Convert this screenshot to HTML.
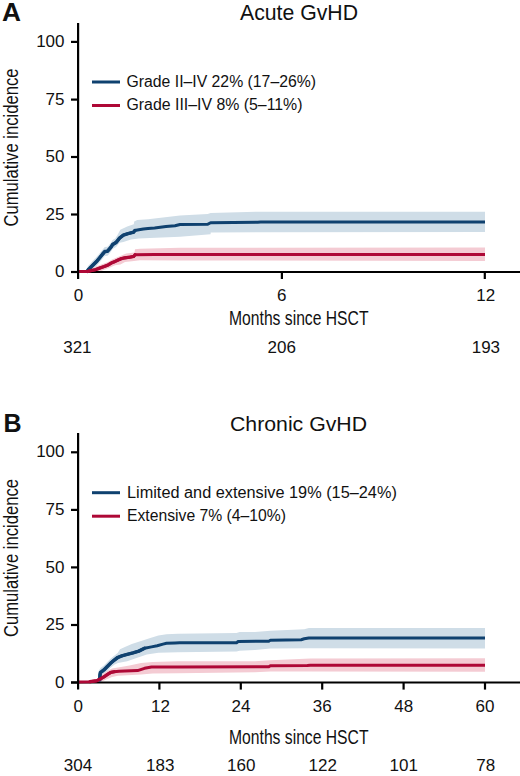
<!DOCTYPE html>
<html><head><meta charset="utf-8">
<style>
html,body{margin:0;padding:0;background:#fff;}
body{width:520px;height:776px;overflow:hidden;}
svg{display:block;}
text{font-family:"Liberation Sans",sans-serif;fill:#111;}
</style></head>
<body>
<svg width="520" height="776" viewBox="0 0 520 776">
<!-- ================= PANEL A ================= -->
<g id="pa">
<text x="2" y="21.3" font-size="25" font-weight="bold" textLength="19" lengthAdjust="spacingAndGlyphs">A</text>
<text x="240" y="20" font-size="21.6" textLength="118" lengthAdjust="spacingAndGlyphs">Acute GvHD</text>
<!-- y label -->
<text transform="translate(18.3,226.5) rotate(-90)" x="0" y="0" font-size="21" textLength="158" lengthAdjust="spacingAndGlyphs">Cumulative incidence</text>
<!-- y tick labels -->
<g font-size="17" text-anchor="end">
<text x="64.5" y="46.9">100</text>
<text x="64.5" y="104.6">75</text>
<text x="64.5" y="162.1">50</text>
<text x="64.5" y="219.6">25</text>
<text x="64.5" y="277.1">0</text>
</g>
<!-- bands -->
<polygon fill="#cfdde7" points="87,269 88,266 90,264 93,260.6 96.5,257.1 99.9,253 102.7,249.5 104.8,247.1 107.5,246.7 109.5,244.4 111,242.6 112.6,240.1 115.2,238.5 117.5,235 120.3,229.7 127.2,226.6 133.8,224.2 134.2,221.4 137.2,220.1 148,219.3 180,215.6 207.7,214 210.6,213.1 260,211.7 485,211.7 485,231.9 260,232.2 210.7,232.4 210.6,234.3 180,236.8 150,238.1 138.8,238.6 131,239.5 123.4,242 119.5,242.7 116.5,246.5 115.2,247.5 112.6,249.1 111,251.6 109.5,253.4 107.5,255.7 104.8,256.1 102.7,258.5 99.9,262 96.5,266.1 93,269.6 91,271.5"/>
<polygon fill="#f4cbd3" points="90,270 96,266.5 100,265 104,263.5 108,262 112,259.5 115,258.3 119,256.5 126.2,253.6 134.5,252.5 135,249.2 140,248.8 180,247.7 485,247.6 485,260.9 180,260.5 140,260.2 131.9,261.2 125,262 120.4,264.5 115,265.2 110,267.5 105,269.5 100,271.5 94,272"/>
<!-- x axis -->
<g stroke="#000" stroke-width="2.2" fill="none">
<line x1="71" y1="272" x2="520" y2="272"/>
</g>
<!-- lines -->
<polyline fill="none" stroke="#0f416f" stroke-width="3" stroke-linejoin="round" points="87.2,271.3 88.6,269.3 89.5,268.5 93,265.1 96.5,261.6 99.9,257.5 102.7,254 104.8,251.6 107.5,251.2 109.5,248.9 111,247.1 112.6,244.6 115.2,243 116.5,242 119.5,238.2 123.4,235.1 128,233.6 131.8,232.6 133.5,232.3 134.9,230.5 138.8,229.7 143.4,229 148,228.6 154.6,228 166,226.6 175,225.8 180,224.5 207.7,224.3 210.6,222.7 257.7,222.3 260.6,222 485,222"/>
<polyline fill="none" stroke="#0f416f" stroke-width="3.5" stroke-linejoin="round" stroke-linecap="round" points="87.2,271.3 88.6,269.3 89.5,268.5 93,265.1 96.5,261.6 99.9,257.5 102.7,254 104.8,251.6 107.5,251.2 109.5,248.9 111,247.1 112.6,244.6 115.2,243 116.5,242 119.5,238.2 123.4,235.1 128,233.6 131.8,232.6 133.5,232.3 134.9,230.5"/>
<polyline fill="none" stroke="#ae0836" stroke-width="3" stroke-linejoin="round" points="78,271.5 88,271.4 90.9,270.6 95.8,269.6 99.9,268 104.1,266.6 108.2,264.9 111.7,262.8 115.2,261.4 118.6,259.8 121.5,258.6 125,257.8 129.6,257.2 133.8,256.4 135,254.8 154.6,254.6 180,254.4 485,254.4"/>
<polyline fill="none" stroke="#ae0836" stroke-width="3.2" stroke-linejoin="round" stroke-linecap="round" points="88,271.4 90.9,270.6 95.8,269.6 99.9,268 104.1,266.6 108.2,264.9 111.7,262.8 115.2,261.4 118.6,259.8 121.5,258.6 125,257.8 129.6,257.2 133.8,256.4 135,254.8"/>
<!-- y axis + ticks -->
<g stroke="#000" stroke-width="2.2" fill="none">
<line x1="78.1" y1="23" x2="78.1" y2="279"/>
<line x1="71" y1="41.9" x2="78" y2="41.9"/>
<line x1="71" y1="99.6" x2="78" y2="99.6"/>
<line x1="71" y1="157" x2="78" y2="157"/>
<line x1="71" y1="214.5" x2="78" y2="214.5"/>
<line x1="71" y1="272" x2="78" y2="272"/>
<line x1="281.9" y1="272" x2="281.9" y2="279"/>
<line x1="484.8" y1="272" x2="484.8" y2="279"/>
</g>
<!-- x tick labels -->
<g font-size="17" text-anchor="middle">
<text x="78.5" y="300.8">0</text>
<text x="281.7" y="300.8">6</text>
<text x="485.8" y="300.8">12</text>
</g>
<text x="229" y="325" font-size="20" textLength="139.5" lengthAdjust="spacingAndGlyphs">Months since HSCT</text>
<g font-size="17" text-anchor="middle">
<text x="77.4" y="352.5">321</text>
<text x="281.8" y="352.5">206</text>
<text x="485.9" y="352.5">193</text>
</g>
<!-- legend -->
<line x1="92" y1="82" x2="120" y2="82" stroke="#0f416f" stroke-width="3"/>
<line x1="92" y1="105.5" x2="120" y2="105.5" stroke="#ae0836" stroke-width="3"/>
<text x="126.5" y="86.5" font-size="16" textLength="189.5" lengthAdjust="spacingAndGlyphs">Grade II–IV 22% (17–26%)</text>
<text x="126.5" y="110.1" font-size="16" textLength="176" lengthAdjust="spacingAndGlyphs">Grade III–IV 8% (5–11%)</text>
</g>

<!-- ================= PANEL B ================= -->
<g id="pb">
<text x="3.5" y="431.8" font-size="25" font-weight="bold">B</text>
<text x="230" y="430.5" font-size="21" textLength="137" lengthAdjust="spacingAndGlyphs">Chronic GvHD</text>
<text transform="translate(18.3,637) rotate(-90)" x="0" y="0" font-size="21" textLength="158" lengthAdjust="spacingAndGlyphs">Cumulative incidence</text>
<g font-size="17" text-anchor="end">
<text x="64.5" y="457.3">100</text>
<text x="64.5" y="515">75</text>
<text x="64.5" y="572.5">50</text>
<text x="64.5" y="630">25</text>
<text x="64.5" y="687.5">0</text>
</g>
<polygon fill="#cfdde7" points="98.3,678 98.6,671 100.5,668 103.9,665.4 107.3,662 110.8,658.5 114.2,655.7 117.7,653 120,649.2 124.9,646.9 131.8,644 141.1,641 150.3,638 158.4,635.4 166.5,634.2 178,633.7 236.5,633.1 239.6,632 255,632 270.4,630.8 304.2,629.2 308.8,628 485,628 485,648.5 308.8,648.2 270.4,648.5 255,650 239.6,650.8 236.5,651.5 178,652.2 158.4,652.7 146.8,654.4 136.5,657.9 127.2,661.3 118,663 114.2,664.7 110.8,667.5 107.3,671 103.9,674.4 101.8,677 101.3,680"/>
<polygon fill="#f4cbd3" points="96,680 100,676 104,673 108,670.5 112,668.5 118,667.5 129.5,665.4 141.1,663.1 152.6,661.9 178,661.3 255,661.2 270.4,660.3 310.4,658.5 485,658.2 485,671.8 310.4,671.5 270.4,671.5 255,672.3 178,673.2 152.6,673.5 141.1,674.6 118,675.8 112,677 106,679.5 101,682"/>
<g stroke="#000" stroke-width="2.2" fill="none">
<line x1="71" y1="682.5" x2="520" y2="682.5"/>
</g>
<polyline fill="none" stroke="#0f416f" stroke-width="3" stroke-linejoin="round" points="99.8,680 100,675 100.4,672.7 103.9,669.9 107.3,666.5 110.8,663 114.2,660.2 117.7,657.5 121.2,656.1 122.6,655.6 127.2,654.4 133,652.9 138.8,651.1 144.5,648.3 151.5,646.9 157.2,645.8 163,644.1 166.5,643.3 175,643 179.6,642.8 236.5,642.8 238.1,641.5 268.8,641.2 270.4,640.3 301.2,639.7 304.2,638.8 308.8,638.1 485,638.1"/>
<polyline fill="none" stroke="#0f416f" stroke-width="3.5" stroke-linejoin="round" stroke-linecap="round" points="99.8,680 100,675 100.4,672.7 103.9,669.9 107.3,666.5 110.8,663 114.2,660.2 117.7,657.5 121.2,656.1 122.6,655.6 127.2,654.4 133,652.9 138.8,651.1 144.5,648.3"/>
<polyline fill="none" stroke="#ae0836" stroke-width="3" stroke-linejoin="round" points="78,682 90,681.7 96.9,680.7 100.4,678.9 103.9,676.9 108,674.1 110.8,672.4 114.2,671.7 119.1,671.3 124.9,671 137.6,670.6 144.5,668.3 151.5,667.1 178,666.9 268.8,666.7 270.4,665.7 307.3,665.6 310.4,665.3 485,665.3"/>
<polyline fill="none" stroke="#ae0836" stroke-width="3.2" stroke-linejoin="round" stroke-linecap="round" points="90,681.7 96.9,680.7 100.4,678.9 103.9,676.9 108,674.1 110.8,672.4 114.2,671.7"/>
<g stroke="#000" stroke-width="2.2" fill="none">
<line x1="78.1" y1="433.1" x2="78.1" y2="689.6"/>
<line x1="71" y1="452.3" x2="78" y2="452.3"/>
<line x1="71" y1="509.9" x2="78" y2="509.9"/>
<line x1="71" y1="567.4" x2="78" y2="567.4"/>
<line x1="71" y1="625" x2="78" y2="625"/>
<line x1="71" y1="682.5" x2="78" y2="682.5"/>
<line x1="159.4" y1="682.5" x2="159.4" y2="689.6"/>
<line x1="240.8" y1="682.5" x2="240.8" y2="689.6"/>
<line x1="322.2" y1="682.5" x2="322.2" y2="689.6"/>
<line x1="403.6" y1="682.5" x2="403.6" y2="689.6"/>
<line x1="485" y1="682.5" x2="485" y2="689.6"/>
</g>
<g font-size="17" text-anchor="middle">
<text x="78.2" y="711.9">0</text>
<text x="160.5" y="711.9">12</text>
<text x="241" y="711.9">24</text>
<text x="322.2" y="711.9">36</text>
<text x="403.7" y="711.9">48</text>
<text x="485" y="711.9">60</text>
</g>
<text x="229" y="743.5" font-size="20" textLength="139.5" lengthAdjust="spacingAndGlyphs">Months since HSCT</text>
<g font-size="17" text-anchor="middle">
<text x="78" y="771.3">304</text>
<text x="160.2" y="771.3">183</text>
<text x="241.3" y="771.3">160</text>
<text x="322.8" y="771.3">122</text>
<text x="403.7" y="771.3">101</text>
<text x="485.7" y="771.3">78</text>
</g>
<line x1="92" y1="492.7" x2="120" y2="492.7" stroke="#0f416f" stroke-width="3"/>
<line x1="92" y1="516.2" x2="120" y2="516.2" stroke="#ae0836" stroke-width="3"/>
<text x="127" y="497.6" font-size="16" textLength="269.8" lengthAdjust="spacingAndGlyphs">Limited and extensive 19% (15–24%)</text>
<text x="127" y="520.7" font-size="16" textLength="159" lengthAdjust="spacingAndGlyphs">Extensive 7% (4–10%)</text>
</g>
</svg>
</body></html>
